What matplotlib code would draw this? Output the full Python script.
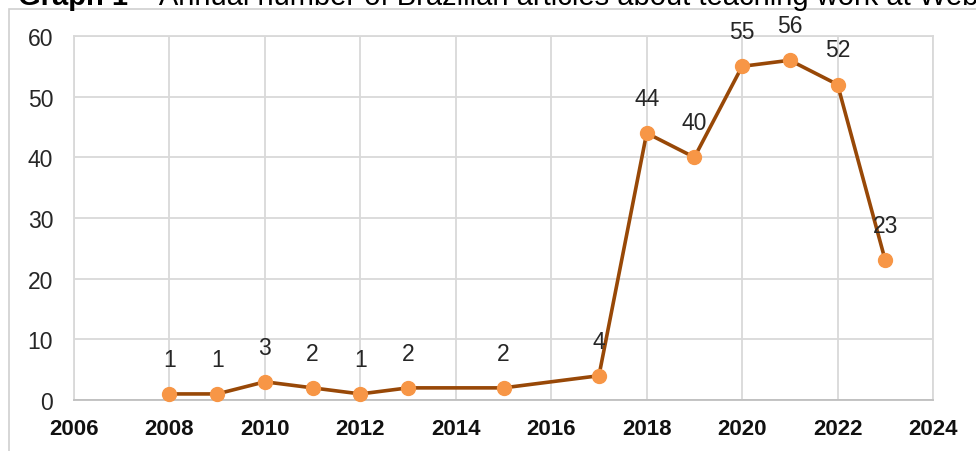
import matplotlib.pyplot as plt
from matplotlib.patches import Rectangle

plt.rcParams['font.family'] = ['Liberation Sans', 'DejaVu Sans']

# Datos
years = [2008, 2009, 2010, 2011, 2012, 2013, 2015, 2017,
         2018, 2019, 2020, 2021, 2022, 2023]
articles = [1, 1, 3, 2, 1, 2, 2, 4, 44, 40, 55, 56, 52, 23]
x_ticks = [2006, 2008, 2010, 2012, 2014, 2016, 2018, 2020, 2022, 2024]
y_ticks = [0, 10, 20, 30, 40, 50, 60]
title_bold = "Graph 1"
title_rest = " – Annual number of Brazilian articles about teaching work at Web of Science"

line_color = "#984807"
marker_color = "#F79646"
grid_color = "#d9d9d9"

fig = plt.figure(figsize=(9.76, 4.52), dpi=100)
ax = fig.add_axes([74 / 976, 1 - 401 / 452, (933 - 74) / 976, (401 - 37) / 452])

ax.plot(years, articles, color=line_color, lw=2.6, marker="o",
        markersize=10, markerfacecolor=marker_color,
        markeredgecolor=marker_color, zorder=3, clip_on=False)

for xv, yv in zip(years, articles):
    ax.annotate(str(yv), (xv, yv), xytext=(0, 25), textcoords="offset points",
                ha="center", va="center", fontsize=16.5, color="#262626",
                annotation_clip=False)

ax.set_xlim(2006, 2024)
ax.set_ylim(0, 60)
ax.set_xticks(x_ticks)
ax.set_yticks(y_ticks)
ax.set_xticklabels([str(t) for t in x_ticks], fontweight="bold", fontsize=16,
                   color="#111111")
ax.set_yticklabels([str(t) for t in y_ticks], fontsize=16.5, color="#262626")
ax.tick_params(axis="x", length=0, pad=13)
ax.tick_params(axis="y", length=0, pad=15)

ax.grid(True, color=grid_color, lw=1.3)
ax.set_axisbelow(True)
for s in ax.spines.values():
    s.set_color(grid_color)
    s.set_linewidth(1.3)
ax.spines["bottom"].set_color("#bfbfbf")

# Marco exterior del gráfico
fig.patches.append(Rectangle((9 / 976, -0.1), 1.2, 1 - 10 / 452 + 0.1,
                             transform=fig.transFigure, fill=False,
                             edgecolor="#d0d0d0", lw=1.2))

# Título recortado en la parte superior
t = fig.text(18 / 976, 1 - 5 / 452, title_bold, fontsize=21, fontweight="bold",
             va="baseline", ha="left")
fig.canvas.draw()
bb = t.get_window_extent()
fig.text(bb.x1 / 976, 1 - 5 / 452, title_rest, fontsize=21, va="baseline",
         ha="left")

fig.savefig("out.png", dpi=100)
